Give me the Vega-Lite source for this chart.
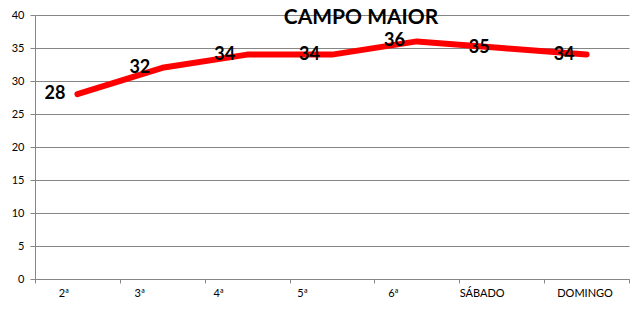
{
  "$schema": "https://vega.github.io/schema/vega-lite/v6.json",
  "width": 594,
  "height": 264,
  "autosize": "none",
  "padding": {"left": 35, "top": 15, "right": 15, "bottom": 34},
  "background": "white",
  "config": {"view": {"stroke": null}, "font": "Lato"},
  "title": {
    "text": "CAMPO MAIOR",
    "fontSize": 21,
    "fontWeight": "bold",
    "font": "Lato",
    "color": "black",
    "anchor": "middle",
    "dx": 29,
    "dy": 24,
    "offset": -12,
    "baseline": "alphabetic"
  },
  "data": {
    "values": [
      {"dia": "2ª", "temp": 28},
      {"dia": "3ª", "temp": 32},
      {"dia": "4ª", "temp": 34},
      {"dia": "5ª", "temp": 34},
      {"dia": "6ª", "temp": 36},
      {"dia": "SÁBADO", "temp": 35},
      {"dia": "DOMINGO", "temp": 34}
    ]
  },
  "encoding": {
    "x": {
      "field": "dia",
      "type": "nominal",
      "sort": null,
      "scale": {"type": "band", "paddingInner": 0, "paddingOuter": 0},
      "axis": {
        "title": null,
        "grid": false,
        "tickBand": "extent",
        "tickSize": 4,
        "tickColor": "#868686",
        "domainColor": "#868686",
        "labelAngle": 0,
        "labelPadding": 4,
        "labelFontSize": 11,
        "labelColor": "black",
        "labelFont": "Lato",
        "labelOffset": {"expr": "datum.value == '2ª' ? -14 : datum.value == '3ª' ? -23 : datum.value == '4ª' ? -29 : datum.value == '5ª' ? -30 : datum.value == '6ª' ? -24 : datum.value == 'SÁBADO' ? -20 : -2"}
      }
    },
    "y": {
      "field": "temp",
      "type": "quantitative",
      "scale": {"domain": [0, 40], "nice": false},
      "axis": {
        "title": null,
        "values": [0, 5, 10, 15, 20, 25, 30, 35, 40],
        "grid": true,
        "gridColor": "#868686",
        "gridOpacity": 1,
        "domainColor": "#868686",
        "tickColor": "#868686",
        "tickSize": 5,
        "labelPadding": 6,
        "labelFontSize": 11,
        "labelColor": "black",
        "labelFont": "Lato"
      }
    }
  },
  "layer": [
    {
      "mark": {"type": "line", "color": "#FF0000", "strokeWidth": 6, "strokeCap": "round", "strokeJoin": "round"}
    },
    {
      "mark": {"type": "text", "align": "right", "baseline": "middle", "dx": -12, "fontSize": 18, "fontWeight": "bold", "font": "Lato", "color": "black"},
      "encoding": {"text": {"field": "temp", "type": "quantitative"}}
    }
  ]
}
